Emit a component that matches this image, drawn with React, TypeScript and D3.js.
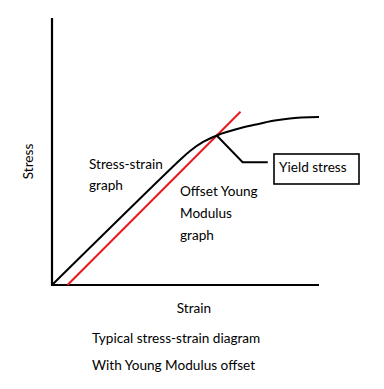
import React from "react";
import * as d3 from "d3";

const stressStrainX = [0, 47.9, 51.7, 56.6, 62.2, 69.3, 76.4, 82.8, 89.1, 100];
const stressStrainY = [0, 46.8, 50.2, 53.6, 56.2, 58.4, 60.1, 61.5, 62.4, 62.9];
const offsetX = [5.8, 70.6];
const offsetY = [0, 64.9];
const leaderX = [61.6, 71.4, 80.8];
const leaderY = [56.1, 46.0, 46.0];

const W = 384;
const H = 389;

export default function App() {
  const x = d3.scaleLinear().domain([0, 100]).range([52, 319]);
  const y = d3.scaleLinear().domain([0, 100]).range([285, 18]);

  const curve = d3
    .line<number>()
    .x((_, i) => x(stressStrainX[i]))
    .y((d) => y(d))
    .curve(d3.curveCatmullRom.alpha(0.5))(stressStrainY) as string;

  const offset = d3
    .line<number>()
    .x((_, i) => x(offsetX[i]))
    .y((d) => y(d))(offsetY) as string;

  const leader = d3
    .line<number>()
    .x((_, i) => x(leaderX[i]))
    .y((d) => y(d))(leaderY) as string;

  const font = "Lato, 'Open Sans', sans-serif";
  const fs = 13.6;

  return (
    <svg
      width={W}
      height={H}
      style={{ position: "absolute", left: 0, top: 0, background: "#fff" }}
      fontFamily={font}
      fontSize={fs}
    >
      <rect width={W} height={H} fill="#fff" />
      <line x1={x(0)} y1={y(100)} x2={x(0)} y2={y(0) + 1} stroke="#000" strokeWidth={2.2} />
      <line x1={x(0) - 1} y1={y(0)} x2={x(100)} y2={y(0)} stroke="#000" strokeWidth={2.2} />

      <path d={offset} fill="none" stroke="#e8191c" strokeWidth={2} />
      <path d={curve} fill="none" stroke="#000" strokeWidth={2} />
      <path d={leader} fill="none" stroke="#000" strokeWidth={2} />

      <rect x={274} y={154} width={85} height={30} fill="#fff" stroke="#000" strokeWidth={1.6} />
      <text x={279} y={172}>Yield stress</text>

      <text x={89} y={169}>Stress-strain</text>
      <text x={89} y={190}>graph</text>

      <text x={180} y={196}>Offset Young</text>
      <text x={180} y={218}>Modulus</text>
      <text x={180} y={240}>graph</text>

      <text transform="translate(33,161.5) rotate(-90)" textAnchor="middle">Stress</text>
      <text x={194} y={313} textAnchor="middle">Strain</text>

      <text x={92} y={343}>Typical stress-strain diagram</text>
      <text x={92} y={370}>With Young Modulus offset</text>
    </svg>
  );
}
